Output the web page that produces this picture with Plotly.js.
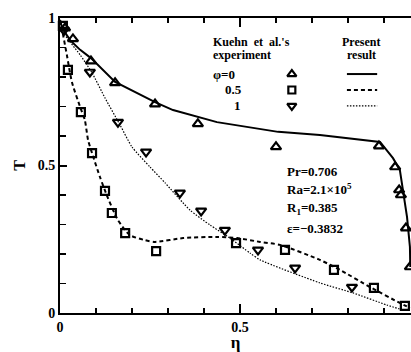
<!DOCTYPE html>
<html>
<head>
<meta charset="utf-8">
<script src="https://cdn.plot.ly/plotly-3.0.1.min.js"></script>
<style>
  html, body { margin: 0; padding: 0; background: #fff; }
  #chart { width: 411px; height: 352px; }
</style>
</head>
<body>
<div id="chart"></div>
<script>
// Kuehn et al.'s experiment (symbols)
const expEta0  = [0.014, 0.036, 0.086, 0.153, 0.264, 0.383, 0.600, 0.886, 0.931, 0.942, 0.947, 0.961, 0.972];
const expT0    = [0.966, 0.929, 0.854, 0.780, 0.708, 0.641, 0.563, 0.566, 0.495, 0.417, 0.400, 0.288, 0.156];
const expEta05 = [0.008, 0.022, 0.058, 0.089, 0.125, 0.144, 0.181, 0.267, 0.489, 0.625, 0.761, 0.872, 0.958];
const expT05   = [0.973, 0.824, 0.681, 0.542, 0.414, 0.339, 0.271, 0.210, 0.237, 0.214, 0.146, 0.085, 0.024];
const expEta1  = [0.011, 0.083, 0.161, 0.239, 0.333, 0.392, 0.458, 0.550, 0.653, 0.811];
const expT1    = [0.959, 0.817, 0.647, 0.546, 0.407, 0.346, 0.281, 0.214, 0.153, 0.088];

// Present result (curves)
const resEta0  = [0, 0.006, 0.028, 0.056, 0.086, 0.153, 0.264, 0.314, 0.436, 0.606, 0.722, 0.889, 0.925, 0.944, 0.964, 0.972, 0.973];
const resT0    = [0.993, 0.966, 0.925, 0.892, 0.864, 0.783, 0.715, 0.688, 0.647, 0.614, 0.603, 0.580, 0.525, 0.485, 0.325, 0.224, 0.156];
const resEta05 = [0, 0.006, 0.019, 0.033, 0.056, 0.069, 0.078, 0.089, 0.111, 0.133, 0.161, 0.194, 0.236, 0.264, 0.342, 0.436, 0.492, 0.556, 0.611, 0.722, 0.778, 0.861, 0.944, 0.972];
const resT05   = [0.993, 0.959, 0.875, 0.783, 0.698, 0.654, 0.586, 0.542, 0.461, 0.390, 0.315, 0.264, 0.247, 0.241, 0.254, 0.258, 0.254, 0.241, 0.231, 0.180, 0.146, 0.088, 0.034, 0.017];
const resEta1  = [0, 0.008, 0.056, 0.089, 0.125, 0.167, 0.200, 0.250, 0.292, 0.361, 0.417, 0.472, 0.528, 0.556, 0.722, 0.814, 0.908, 0.953];
const resT1    = [0.993, 0.953, 0.875, 0.814, 0.729, 0.637, 0.563, 0.495, 0.441, 0.349, 0.298, 0.254, 0.203, 0.180, 0.102, 0.068, 0.027, 0.010];

// Legend rows and parameter block
const phiLabels = ['\u03c6=0', '0.5', '1'];
const paramLabels = ['Pr=0.706', 'Ra=2.1\u00d710<sup>5</sup>', 'R<sub>1</sub>=0.385', '\u03b5=\u22120.3832'];

const FONT = 'Liberation Serif, Times New Roman, serif';
const BLACK = '#000';

const symbols = ['triangle-up-open', 'square-open', 'triangle-down-open'];
const symSize = [9, 8, 9];
const dashes = ['solid', '4px,3px', '1.5px,1.5px'];
const lineW = [2, 2, 1.2];

function expTrace(x, y, i) {
  return { x: x, y: y, type: 'scatter', mode: 'markers', showlegend: false, cliponaxis: false,
    marker: { symbol: symbols[i], size: symSize[i], color: BLACK, line: { width: 2.2, color: BLACK } } };
}
function resTrace(x, y, i, shape) {
  return { x: x, y: y, type: 'scatter', mode: 'lines', showlegend: false,
    line: { color: BLACK, width: lineW[i], dash: dashes[i], shape: shape, smoothing: 0.6 } };
}

const traces = [
  resTrace(resEta0, resT0, 0, 'linear'),
  resTrace(resEta05, resT05, 1, 'spline'),
  resTrace(resEta1, resT1, 2, 'spline'),
  expTrace(expEta0, expT0, 0),
  expTrace(expEta05, expT05, 1),
  expTrace(expEta1, expT1, 2)
];

// legend sample placement (in axis units)
const legRowT = [0.810, 0.756, 0.702];
const legSymEta = 0.644;
const legLine = [0.797, 0.881];
legRowT.forEach(function (t, i) {
  traces.push({ x: [legSymEta], y: [t], type: 'scatter', mode: 'markers', showlegend: false,
    marker: { symbol: symbols[i], size: symSize[i] - 1, color: BLACK, line: { width: 2.2, color: BLACK } } });
  traces.push({ x: legLine, y: [t, t], type: 'scatter', mode: 'lines', showlegend: false,
    line: { color: BLACK, width: lineW[i], dash: dashes[i] } });
});

const annotations = [];
function note(x, y, text, anchor, size) {
  annotations.push({ x: x, y: y, xref: 'x', yref: 'y', text: text, showarrow: false,
    xanchor: anchor, yanchor: 'middle', font: { family: FONT, size: size, color: BLACK, weight: 'bold' } });
}
note(0.419, 0.918, "Kuehn  et  al.'s", 'left', 12);
note(0.419, 0.876, 'experiment', 'left', 12);
note(0.836, 0.918, 'Present', 'center', 12);
note(0.838, 0.876, 'result', 'center', 12);
note(0.419, legRowT[0], phiLabels[0], 'left', 13);
note(0.483, legRowT[1], phiLabels[1], 'center', 13);
note(0.492, legRowT[2], phiLabels[2], 'center', 13);
const paramT = [0.481, 0.420, 0.353, 0.288];
paramLabels.forEach(function (s, i) { note(0.625, paramT[i], s, 'left', 13); });

const axisFont = { family: FONT, size: 14, color: BLACK, weight: 'bold' };

const layout = {
  width: 411, height: 352,
  margin: { l: 60, r: 0, t: 18, b: 39 },
  paper_bgcolor: '#fff', plot_bgcolor: '#fff',
  font: { family: FONT, color: BLACK },
  xaxis: {
    range: [0, 0.975], showgrid: false, zeroline: false,
    showline: true, linewidth: 2, linecolor: BLACK, mirror: 'ticks',
    tickvals: [0, 0.5], ticktext: ['0', '0.5'],
    ticks: 'inside', ticklen: 9, tickwidth: 2, tickcolor: BLACK,
    minor: { tickvals: [0.1, 0.2, 0.3, 0.4, 0.6, 0.7, 0.8, 0.9], ticks: 'inside', ticklen: 5, tickwidth: 1.5, tickcolor: BLACK },
    tickfont: axisFont,
    title: { text: '\u03b7', font: { family: FONT, size: 17, color: BLACK, weight: 'bold' }, standoff: 4 }
  },
  yaxis: {
    range: [0, 1], showgrid: false, zeroline: false,
    showline: true, linewidth: 2, linecolor: BLACK,
    tickvals: [0, 0.5, 1], ticktext: ['0', '0.5', '1'],
    ticks: 'inside', ticklen: 7, tickwidth: 2, tickcolor: BLACK,
    minor: { tickvals: [0.1, 0.2, 0.3, 0.4, 0.6, 0.7, 0.8, 0.9], ticks: 'inside', ticklen: 6, tickwidth: 1.5, tickcolor: BLACK },
    tickfont: axisFont,
    title: { text: 'T', font: { family: FONT, size: 16, color: BLACK, weight: 'bold' }, standoff: 8 }
  },
  annotations: annotations
};

Plotly.newPlot('chart', traces, layout, { displayModeBar: false, staticPlot: true });
</script>
</body>
</html>
